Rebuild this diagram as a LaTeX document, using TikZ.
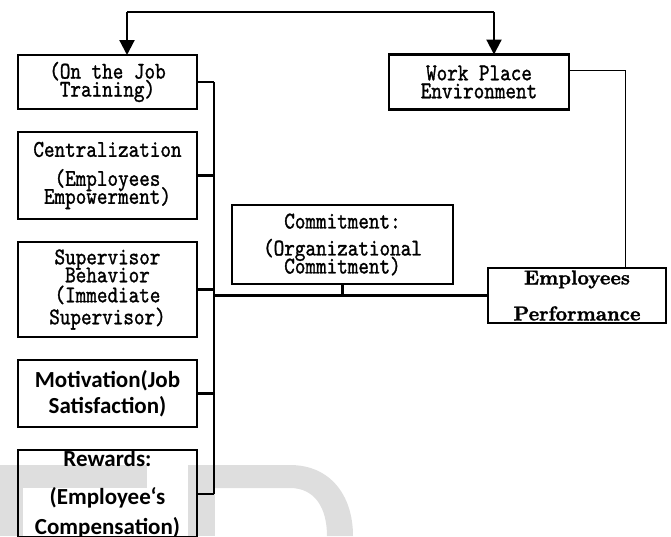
\documentclass[tikz,border=0pt]{standalone}
\usepackage{fontspec}
\newfontfamily\carlito{Carlito}
\newfontfamily\simmono{lmmono10-regular.otf}[FakeBold=1.2,FakeStretch=0.84]
\newfontfamily\perfserif{lmroman10-bold.otf}[FakeBold=1.5]
\usetikzlibrary{positioning}
\usetikzlibrary{arrows.meta}
\definecolor{markgray}{HTML}{DEDEDE}
\newcommand{\tightlines}{\setlength{\lineskiplimit}{-50pt}}

\begin{document}
\begin{tikzpicture}[x=1pt,y=-1pt,>={Triangle[width=15pt,length=15pt]},node distance=23pt,
	main node/.style={draw,line width=2.6pt,inner sep=0pt,outer sep=0pt,align=center,minimum width=179pt},
	mono/.style={font={\simmono\fontsize{24}{18}\selectfont\tightlines}},
	sans/.style={font={\carlito\bfseries\fontsize{23}{26}\selectfont\tightlines}},
	link/.style={line width=2.4pt}]
	
	\useasboundingbox (0,0) rectangle (671,536);
	
	\fill[markgray] (0,465) rectangle (147,488);
	\fill[markgray] (0,488) rectangle (23,536);
	\fill[markgray] (188,465) rectangle (215,536);
	\fill[markgray] (215,465) -- (290,465) .. controls (330,465) and (353,495) .. (353,536)
	-- (327,536) .. controls (327,508) and (315,488) .. (290,488) -- (215,488) -- cycle;
	
	\node[main node,mono,minimum height=54pt] (job) at (107.5,82) {(On the Job\\Training)};
	\node[main node,mono,minimum height=87pt] (cent) [below=of job] {Centralization\\[11pt](Employees\\Empowerment)};
	\node[main node,mono,minimum height=95pt] (sup) [below=of cent] {Supervisor\\Behavior\\[2pt](Immediate\\[4pt]Supervisor)};
	\node[main node,sans,minimum height=67pt] (mot) [below=of sup] {Motivation(Job\\Satisfaction)};
	\node[main node,sans,minimum height=85pt] (rew) [below=of mot] {Rewards:\\[12pt](Employee‘s\\[4pt]Compensation)};
	\node[main node,mono,minimum width=180pt,minimum height=55pt] (work) [right=192pt of job] {Work Place\\Environment};
	\node[main node,mono,minimum width=221pt,minimum height=79pt] (commit) at (342.5,244.5) {Commitment:\\[9pt](Organizational\\Commitment)};
	\node[main node,minimum width=178pt,minimum height=55pt,font={\perfserif\fontsize{20}{36}\selectfont}] (perf) at (577,295.5) {Employees\\Performance};
	
	\coordinate (fork l) at (127,12);
	\coordinate (fork r) at (494,12);
	\coordinate (bus) at (214,82);
	\coordinate (drop) at (625,70);
	
	\draw[line width=1.3pt] (fork l) -- (fork r);
	\draw[->,line width=2.2pt] (fork l) -- (fork l |- job.north);
	\draw[->,line width=2.2pt] (fork r) -- (fork r |- work.north);
	
	\draw[link] (bus) -- (bus |- rew.east);
	\foreach \n in {job,cent,sup,mot,rew}
	\draw[link] (\n.east) -- (\n.east -| bus);
	\draw[line width=3.2pt] (bus |- perf.west) -- (perf.west);
	\draw[link] (commit.south) -- (commit.south |- perf.west);
	\draw[line width=1pt] (work.east |- drop) -- (drop) -- (drop |- perf.north);
\end{tikzpicture}
\end{document}
